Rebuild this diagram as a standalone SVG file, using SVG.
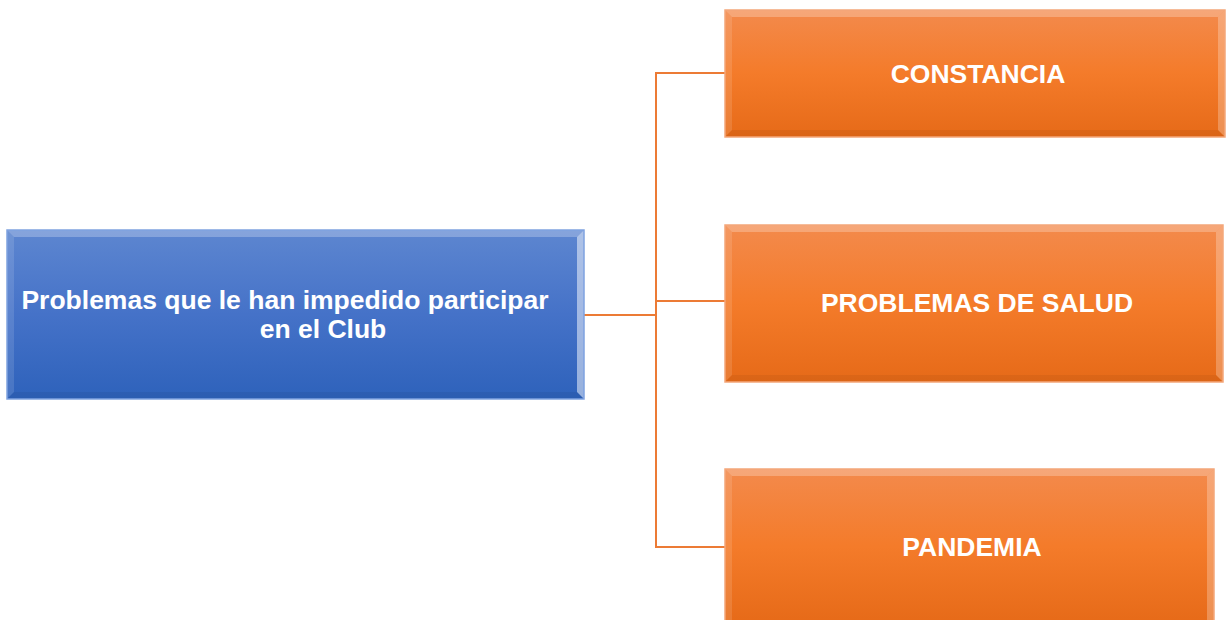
<svg xmlns="http://www.w3.org/2000/svg" width="1226" height="620" viewBox="0 0 1226 620">
<defs>
<linearGradient id="gBlue" x1="0" y1="0" x2="0" y2="1">
<stop offset="0" stop-color="#5d86d0"/>
<stop offset="0.5" stop-color="#4572c8"/>
<stop offset="1" stop-color="#2e62bb"/>
</linearGradient>
<linearGradient id="gOrange" x1="0" y1="0" x2="0" y2="1">
<stop offset="0" stop-color="#f38a4c"/>
<stop offset="0.5" stop-color="#f47b2a"/>
<stop offset="1" stop-color="#e66a18"/>
</linearGradient>
</defs>
<style>
.lbl{font-family:"Liberation Sans",Arial,sans-serif;font-weight:bold;font-size:26.5px;fill:#ffffff;text-anchor:middle}
.conn{fill:none;stroke:#ec7b35;stroke-width:2}
.hiT{fill:#ffffff;opacity:0.25}
.hiS{fill:#ffffff;opacity:0.12}
.shB{fill:#000000;opacity:0.05}
.edgeB{fill:none;stroke:#7fa2e0;stroke-width:1.5}
.edgeO{fill:none;stroke:#f4a77a;stroke-width:1.5}
</style>
<g id="connectors">
<path class="conn" d="M584 315 H656" stroke-width="3"/>
<path class="conn" d="M726 73 H656 V547 H726"/>
<path class="conn" d="M656 301 H726"/>
</g>
<g id="root">
<rect x="7" y="230" width="577" height="169" fill="url(#gBlue)"/>
<polygon class="hiT" points="7,230 584,230 577,237 14,237"/>
<polygon class="hiS" points="7,230 14,237 14,392 7,399"/>
<polygon points="584,230 584,399 577,392 577,237" fill="#ffffff" opacity="0.5"/>
<polygon class="shB" points="7,399 14,392 577,392 584,399"/>
<rect class="edgeB" x="7" y="230" width="577" height="169"/>
<text class="lbl" x="285" y="309">Problemas que le han impedido participar</text>
<text class="lbl" x="323" y="338">en el Club</text>
</g>
<g id="n1">
<rect x="725" y="10" width="500" height="127" fill="url(#gOrange)"/>
<polygon class="hiT" points="725,10 1225,10 1218,17 732,17"/>
<polygon class="hiS" points="725,10 732,17 732,130 725,137"/>
<polygon points="1225,10 1225,137 1218,130 1218,17" fill="#ffffff" opacity="0.25"/>
<polygon class="shB" points="725,137 732,130 1218,130 1225,137"/>
<rect class="edgeO" x="725" y="10" width="500" height="127"/>
<text class="lbl" x="978" y="83">CONSTANCIA</text>
</g>
<g id="n2">
<rect x="725" y="225" width="498" height="157" fill="url(#gOrange)"/>
<polygon class="hiT" points="725,225 1223,225 1216,232 732,232"/>
<polygon class="hiS" points="725,225 732,232 732,375 725,382"/>
<polygon points="1223,225 1223,382 1216,375 1216,232" fill="#ffffff" opacity="0.25"/>
<polygon class="shB" points="725,382 732,375 1216,375 1223,382"/>
<rect class="edgeO" x="725" y="225" width="498" height="157"/>
<text class="lbl" x="977" y="312">PROBLEMAS DE SALUD</text>
</g>
<g id="n3">
<rect x="725" y="469" width="489" height="155" fill="url(#gOrange)"/>
<polygon class="hiT" points="725,469 1214,469 1207,476 732,476"/>
<polygon class="hiS" points="725,469 732,476 732,624 725,624"/>
<polygon points="1214,469 1214,624 1207,624 1207,476" fill="#ffffff" opacity="0.25"/>
<rect class="edgeO" x="725" y="469" width="489" height="155"/>
<text class="lbl" x="972" y="556">PANDEMIA</text>
</g>
</svg>
